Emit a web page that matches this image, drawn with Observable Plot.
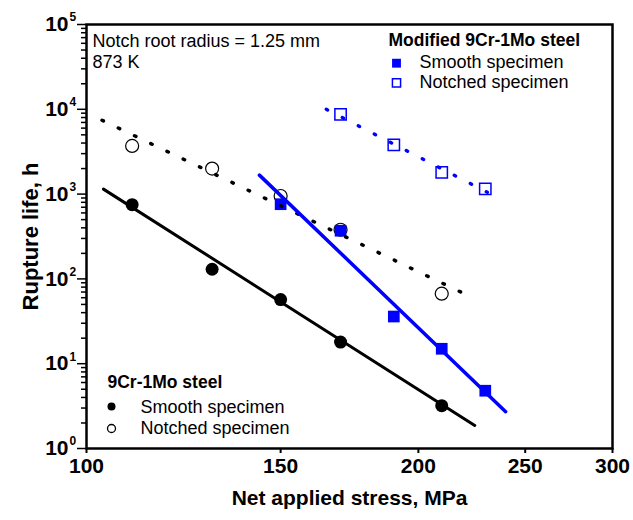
<!DOCTYPE html>
<html><head><meta charset="utf-8">
<script src="https://cdn.jsdelivr.net/npm/d3@7"></script>
<script src="https://cdn.jsdelivr.net/npm/@observablehq/plot@0.6"></script>
<style>body{margin:0;background:#fff;}</style>
</head><body><div id="chart"></div>
<script>
// 9Cr-1Mo steel
const stress9 = [110, 130, 150, 170, 210];
const smooth9 = [750, 130, 57, 18, 3.2];
const notched9 = [3700, 2000, 950, 380, 67];
// Modified 9Cr-1Mo steel
const stressModSmooth = [150, 170, 190, 210, 230];
const smoothMod = [760, 370, 36, 15, 4.8];
const stressModNotch = [170, 190, 210, 230];
const notchedMod = [8700, 3800, 1800, 1150];
// fitted trend lines (end points)
const fitSmooth9Stress = [103.6, 225];
const fitSmooth9Life = [1145, 1.87];
const fitNotch9Stress = [103.3, 224];
const fitNotch9Life = [7430, 60];
const fitSmoothModStress = [143.5, 240];
const fitSmoothModLife = [1674, 2.72];
const fitNotchModStress = [165, 231];
const fitNotchModLife = [10000, 1050];
// ticks
const xTicks = [100, 150, 200, 250, 300];
const yMajor = [1, 10, 100, 1000, 10000, 100000];
const yMinor = [];
for (let e = 0; e < 5; e++) for (let m = 2; m <= 9; m++) yMinor.push(m * Math.pow(10, e));

const font = "'Liberation Sans', Arial, sans-serif";
const blue = "#0000ff";

const rows9 = stress9.map((s, i) => ({s, smooth: smooth9[i], notched: notched9[i]}));
const rowsModS = stressModSmooth.map((s, i) => ({s, v: smoothMod[i]}));
const rowsModN = stressModNotch.map((s, i) => ({s, v: notchedMod[i]}));
const pts = (xs, ys) => xs.map((s, i) => ({s, v: ys[i]}));

const plot = Plot.plot({
  width: 633, height: 520,
  marginLeft: 86, marginRight: 21, marginTop: 24, marginBottom: 72,
  style: {fontFamily: font, background: "white", color: "black", overflow: "visible"},
  x: {type: "log", domain: [100, 300]},
  y: {type: "log", domain: [1, 1e5]},
  marks: [
    Plot.axisY({ticks: yMinor, tickSize: 5, tickFormat: () => "", strokeWidth: 1.5, label: null}),
    Plot.axisY({ticks: yMajor, tickSize: 9, tickFormat: () => "", strokeWidth: 1.5, label: null}),
    Plot.axisX({ticks: xTicks, tickSize: 5, tickPadding: 5, tickFormat: d => String(d), fontSize: 21, fontWeight: "bold", strokeWidth: 2, label: null}),
    Plot.text(yMajor, {y: d => d, frameAnchor: "left", dx: -18, text: () => "10", textAnchor: "end", fontSize: 21, fontWeight: "bold"}),
    Plot.text(yMajor, {y: d => d, frameAnchor: "left", dx: -17, dy: -7, text: d => String(Math.round(Math.log10(d))), textAnchor: "start", fontSize: 12, fontWeight: "bold"}),
    // markers
    Plot.dot(rows9, {x: "s", y: "notched", r: 6.5, stroke: "black", strokeWidth: 1.2, fill: "none"}),
    Plot.dot(rows9, {x: "s", y: "smooth", r: 6.5, fill: "black", stroke: "none"}),
    Plot.dot(rowsModS, {x: "s", y: "v", symbol: "square", r: 6.6, fill: blue, stroke: "none"}),
    Plot.dot(rowsModN, {x: "s", y: "v", symbol: "square", r: 6.4, stroke: blue, strokeWidth: 1.5, fill: "none"}),
    // lines
    Plot.line(pts(fitSmooth9Stress, fitSmooth9Life), {x: "s", y: "v", stroke: "black", strokeWidth: 3}),
    Plot.line(pts(fitNotch9Stress, fitNotch9Life), {x: "s", y: "v", stroke: "black", strokeWidth: 3.5, strokeDasharray: "1.5,16.5", strokeLinecap: "round"}),
    Plot.line(pts(fitSmoothModStress, fitSmoothModLife), {x: "s", y: "v", stroke: blue, strokeWidth: 3.5}),
    Plot.line(pts(fitNotchModStress, fitNotchModLife), {x: "s", y: "v", stroke: blue, strokeWidth: 3.5, strokeDasharray: "1.5,16.5", strokeLinecap: "round"}),
    // annotation
    Plot.text(["Notch root radius = 1.25 mm"], {frameAnchor: "top-left", dx: 6, dy: 22, text: d => d, textAnchor: "start", lineAnchor: "bottom", fontSize: 18}),
    Plot.text(["873 K"], {frameAnchor: "top-left", dx: 6, dy: 43, text: d => d, textAnchor: "start", lineAnchor: "bottom", fontSize: 18}),
    // legend modified
    Plot.text(["Modified 9Cr-1Mo steel"], {frameAnchor: "top-left", dx: 302, dy: 21, text: d => d, textAnchor: "start", lineAnchor: "bottom", fontSize: 17.5, fontWeight: "bold"}),
    Plot.dot([0], {frameAnchor: "top-left", dx: 310, dy: 38.7, symbol: "square", r: 5, fill: blue, stroke: "none"}),
    Plot.text(["Smooth specimen"], {frameAnchor: "top-left", dx: 333, dy: 43, text: d => d, textAnchor: "start", lineAnchor: "bottom", fontSize: 18}),
    Plot.dot([0], {frameAnchor: "top-left", dx: 310, dy: 58.3, symbol: "square", r: 4.6, fill: "none", stroke: blue, strokeWidth: 1.5}),
    Plot.text(["Notched specimen"], {frameAnchor: "top-left", dx: 333, dy: 63, text: d => d, textAnchor: "start", lineAnchor: "bottom", fontSize: 18}),
    // legend 9Cr
    Plot.text(["9Cr-1Mo steel"], {frameAnchor: "top-left", dx: 21, dy: 363, text: d => d, textAnchor: "start", lineAnchor: "bottom", fontSize: 17.5, fontWeight: "bold"}),
    Plot.dot([0], {frameAnchor: "top-left", dx: 25, dy: 382, r: 4, fill: "black", stroke: "none"}),
    Plot.text(["Smooth specimen"], {frameAnchor: "top-left", dx: 54, dy: 388, text: d => d, textAnchor: "start", lineAnchor: "bottom", fontSize: 18}),
    Plot.dot([0], {frameAnchor: "top-left", dx: 25, dy: 404, r: 4, fill: "none", stroke: "black", strokeWidth: 1.3}),
    Plot.text(["Notched specimen"], {frameAnchor: "top-left", dx: 54, dy: 409, text: d => d, textAnchor: "start", lineAnchor: "bottom", fontSize: 18}),
    // axis titles
    Plot.text(["Net applied stress, MPa"], {frameAnchor: "bottom", dy: 56, text: d => d, textAnchor: "middle", lineAnchor: "bottom", fontSize: 21, fontWeight: "bold"}),
    Plot.text(["Rupture life, h"], {frameAnchor: "left", dx: -56, rotate: -90, text: d => d, textAnchor: "middle", lineAnchor: "middle", fontSize: 22, fontWeight: "bold"}),
    Plot.frame({stroke: "black", strokeWidth: 2.5})
  ]
});
document.getElementById("chart").appendChild(plot);
</script>
</body></html>
